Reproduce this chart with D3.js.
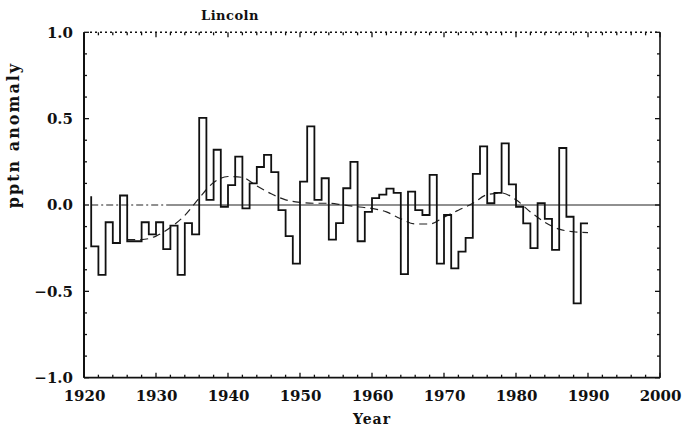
<!DOCTYPE html>
<html>
<head>
<meta charset="utf-8">
<script src="https://cdn.jsdelivr.net/npm/d3@7"></script>
<style>
  body { margin: 0; background: #fff; }
  text { font-family: "DejaVu Serif", "Liberation Serif", serif; font-weight: bold; fill: #111; }
</style>
</head>
<body>
<svg id="chart" width="685" height="430"></svg>
<script>
// Annual precipitation anomaly, Lincoln (yearly step series)
const years = d3.range(1921, 1991);
const anomalies = [
  0.05, -0.24, -0.405, -0.10, -0.22, 0.055, -0.21, -0.21, -0.10, -0.17,
  -0.10, -0.255, -0.12, -0.405, -0.105, -0.17, 0.505, 0.03, 0.32, -0.01,
  0.115, 0.28, -0.02, 0.125, 0.22, 0.29, 0.19, -0.03, -0.18, -0.34,
  0.135, 0.455, 0.03, 0.155, -0.20, -0.105, 0.097, 0.25, -0.21, -0.04,
  0.04, 0.06, 0.095, 0.07, -0.40, 0.077, -0.03, -0.058, 0.174, -0.34,
  -0.058, -0.367, -0.27, -0.19, 0.18, 0.34, 0.01, 0.07, 0.357, 0.12,
  -0.01, -0.106, -0.25, 0.01, -0.08, -0.26, 0.33, -0.068, -0.57, -0.106
];

// Low-pass filtered curve
const smoothYears = [1926, 1928, 1930, 1932, 1934, 1936, 1938, 1940, 1942, 1944,
  1946, 1948, 1950, 1952, 1954, 1956, 1958, 1960, 1962, 1964, 1966, 1968,
  1970, 1972, 1974, 1976, 1978, 1980, 1982, 1984, 1986, 1988, 1990];
const smoothValues = [-0.20, -0.20, -0.18, -0.13, -0.06, 0.04, 0.13, 0.165, 0.16, 0.11,
  0.065, 0.03, 0.015, 0.01, 0.01, 0.0, -0.01, -0.02, -0.04, -0.08, -0.11, -0.11,
  -0.07, -0.03, 0.01, 0.06, 0.07, 0.03, -0.04, -0.10, -0.14, -0.155, -0.16];

const xTickValues = [1920, 1930, 1940, 1950, 1960, 1970, 1980, 1990, 2000];
const xMinorTicks = d3.range(1920, 2001, 2);
const yTickValues = [-1.0, -0.5, 0.0, 0.5, 1.0];
const yMinorTicks = d3.range(-1, 1.0001, 0.125);
const titleText = "Lincoln";
const xTitle = "Year";
const yTitle = "pptn anomaly";

const svg = d3.select("#chart");
const plotLeft = 84, plotRight = 660, plotTop = 32.3, plotBottom = 377.7;

const x = d3.scaleLinear().domain([1920, 2000]).range([plotLeft, plotRight]);
const y = d3.scaleLinear().domain([-1, 1]).range([plotBottom, plotTop]);

const stepData = years.map((yr, i) => ({ year: yr, value: anomalies[i] }));
const smoothData = smoothYears.map((yr, i) => ({ year: yr, value: smoothValues[i] }));

// zero reference line: dash-dot at the start, then solid
svg.append("line")
  .attr("x1", x(1921)).attr("x2", x(2000))
  .attr("y1", y(0)).attr("y2", y(0))
  .attr("stroke", "#222").attr("stroke-width", 1.1)
  .attr("stroke-dasharray", "7,3,2,3,7,3,2,3,7,3,2,3,7,3,2,3,7,3,2,3,2000");

// filtered curve
svg.append("path")
  .datum(smoothData)
  .attr("fill", "none")
  .attr("stroke", "#222")
  .attr("stroke-width", 1.2)
  .attr("stroke-dasharray", "8,5")
  .attr("d", d3.line().x(d => x(d.year)).y(d => y(d.value)).curve(d3.curveMonotoneX));

// annual step series
svg.append("path")
  .datum(stepData)
  .attr("fill", "none")
  .attr("stroke", "#111")
  .attr("stroke-width", 1.8)
  .attr("d", d3.line().x(d => x(d.year)).y(d => y(d.value)).curve(d3.curveStepBefore));

// frame
const frame = svg.append("g").attr("stroke", "#111").attr("fill", "none");
frame.append("line").attr("x1", plotLeft).attr("x2", plotLeft).attr("y1", plotTop).attr("y2", plotBottom).attr("stroke-width", 2);
frame.append("line").attr("x1", plotRight).attr("x2", plotRight).attr("y1", plotTop).attr("y2", plotBottom).attr("stroke-width", 1.6);
frame.append("line").attr("x1", plotLeft).attr("x2", plotRight).attr("y1", plotBottom).attr("y2", plotBottom).attr("stroke-width", 1.8);
frame.append("line").attr("x1", plotLeft + 6).attr("x2", plotRight).attr("y1", plotTop).attr("y2", plotTop)
  .attr("stroke-width", 1.6).attr("stroke-dasharray", "2,3");

// bottom axis labels
const xAxis = d3.axisBottom(x).tickValues(xTickValues).tickFormat(d3.format("d")).tickSize(0).tickPadding(13);
const gx = svg.append("g").attr("transform", `translate(0,${plotBottom})`).call(xAxis);
gx.select(".domain").remove();
gx.selectAll("text").attr("font-size", 15).attr("fill", "#111")
  .style("font-family", '"DejaVu Serif", serif').style("font-weight", "bold");

// left axis labels
const yAxis = d3.axisLeft(y).tickValues(yTickValues).tickFormat(d => d3.format(".1f")(d).replace("-", "\u2212"))
  .tickSize(0).tickPadding(11);
const gy = svg.append("g").attr("transform", `translate(${plotLeft},0)`).call(yAxis);
gy.select(".domain").remove();
gy.selectAll("text").attr("font-size", 15).attr("fill", "#111")
  .style("font-family", '"DejaVu Serif", serif').style("font-weight", "bold");

// minor / major tick marks on all four sides, pointing inward
const tickG = svg.append("g").attr("stroke", "#111").attr("stroke-width", 1.3);
xMinorTicks.forEach(v => {
  const len = v % 10 === 0 ? 5 : 3;
  tickG.append("line").attr("x1", x(v)).attr("x2", x(v)).attr("y1", plotBottom).attr("y2", plotBottom - len);
  tickG.append("line").attr("x1", x(v)).attr("x2", x(v)).attr("y1", plotTop).attr("y2", plotTop + len);
});
yMinorTicks.forEach(v => {
  const major = Math.abs(v * 2 - Math.round(v * 2)) < 1e-6;
  const len = major ? 5 : 3;
  tickG.append("line").attr("x1", plotLeft).attr("x2", plotLeft + len).attr("y1", y(v)).attr("y2", y(v));
  tickG.append("line").attr("x1", plotRight).attr("x2", plotRight - len).attr("y1", y(v)).attr("y2", y(v));
});

// titles
svg.append("text").attr("x", 230).attr("y", 20).attr("text-anchor", "middle")
  .attr("font-size", 13).attr("letter-spacing", 0.5).text(titleText);
svg.append("text").attr("x", (plotLeft + plotRight) / 2).attr("y", 424).attr("text-anchor", "middle")
  .attr("font-size", 14).attr("letter-spacing", 1).text(xTitle);
svg.append("text").attr("transform", "translate(19,135) rotate(-90)").attr("text-anchor", "middle")
  .attr("font-size", 16).attr("letter-spacing", 2).text(yTitle);
</script>
</body>
</html>
